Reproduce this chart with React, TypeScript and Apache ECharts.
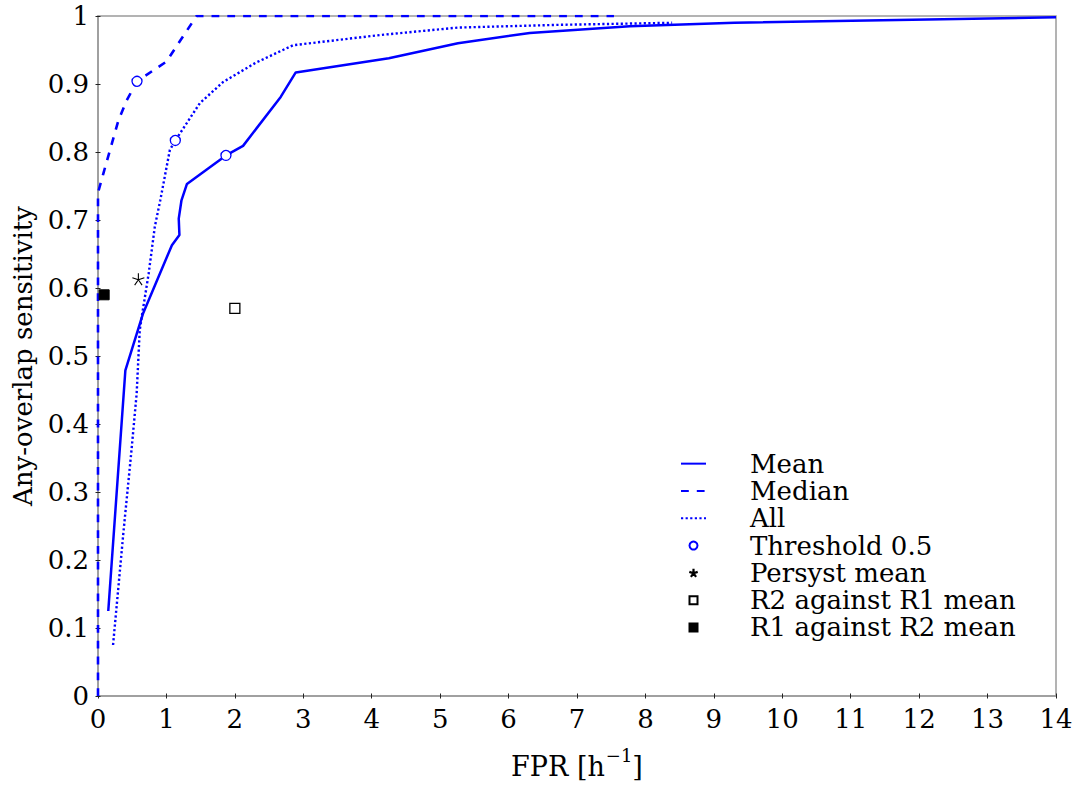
import React, { useEffect, useRef } from "react";
import * as echarts from "echarts";

// ROC-style curves: sensitivity against false-positive rate per hour
const meanFpr = [0.15, 0.4, 0.66, 1.08, 1.19, 1.18, 1.22, 1.3, 1.87, 2.12, 2.67, 2.89, 4.25, 5.26, 6.31, 7.77, 9.3, 14.0];
const meanSens = [0.125, 0.479, 0.563, 0.663, 0.678, 0.702, 0.729, 0.753, 0.795, 0.809, 0.881, 0.917, 0.938, 0.96, 0.975, 0.985, 0.99, 0.998];

const medianFpr = [0, 0, 0.08, 0.19, 0.3, 0.42, 0.57, 1.0, 1.44, 7.54];
const medianSens = [0, 0.74, 0.769, 0.808, 0.847, 0.876, 0.904, 0.933, 1.0, 1.0];

const allFpr = [0.22, 0.37, 0.49, 0.565, 0.61, 0.64, 0.74, 0.83, 0.91, 1.05, 1.13, 1.49, 1.83, 2.3, 2.85, 4.12, 5.26, 6.73, 8.39];
const allSens = [0.075, 0.239, 0.362, 0.445, 0.538, 0.558, 0.621, 0.69, 0.729, 0.803, 0.817, 0.872, 0.903, 0.931, 0.957, 0.972, 0.983, 0.987, 0.99];

const thresholdFpr = [0.57, 1.13, 1.87];
const thresholdSens = [0.904, 0.817, 0.795];

const persystPoint = [0.59, 0.613];
const r2VsR1Point = [2.0, 0.57];
const r1VsR2Point = [0.09, 0.59];

const xTicks = { min: 0, max: 14, interval: 1 };
const yTicks = { min: 0, max: 1, interval: 0.1 };

const seriesNames = [
  "Mean",
  "Median",
  "All",
  "Threshold 0.5",
  "Persyst mean",
  "R2 against R1 mean",
  "R1 against R2 mean",
];

const FONT = '"DejaVu Serif", "Liberation Serif", serif';
const BLUE = "#0000ff";
const AXIS_GREY = "#9a9a9a";
const STAR = "path://M0,-10L0,0M9.51,-3.09L0,0M5.88,8.09L0,0M-5.88,8.09L0,0M-9.51,-3.09L0,0";
const SQUARE = "path://M0,0L10,0L10,10L0,10Z";

const zip = (xs: number[], ys: number[]) => xs.map((x, i) => [x, ys[i]]);

// line entries in the legend show only their stroke, no marker
const lineOnly = { color: "rgba(0,0,0,0)", borderColor: "rgba(0,0,0,0)", borderWidth: 0 };

export default function App() {
  const ref = useRef<HTMLDivElement>(null);

  useEffect(() => {
    if (!ref.current) return;
    const chart = echarts.init(ref.current, undefined, { renderer: "svg" });

    const labelStyle = { color: "#000", fontFamily: FONT, fontSize: 26 };
    const tickStyle = { color: "#222", width: 1 };

    const baseX = {
      type: "value" as const,
      min: xTicks.min,
      max: xTicks.max,
      interval: xTicks.interval,
      position: "bottom" as const,
      splitLine: { show: false },
    };
    const baseY = {
      type: "value" as const,
      min: yTicks.min,
      max: yTicks.max,
      interval: yTicks.interval,
      position: "left" as const,
      splitLine: { show: false },
    };

    chart.setOption({
      animation: false,
      backgroundColor: "#fff",
      grid: {
        left: 98,
        right: 20,
        top: 16,
        bottom: 89,
        show: true,
        borderColor: AXIS_GREY,
        borderWidth: 1.5,
      },
      xAxis: [
        {
          ...baseX,
          axisLine: { show: true, lineStyle: { color: AXIS_GREY, width: 1.5 } },
          axisTick: { show: true, inside: true, length: 2.5, lineStyle: tickStyle },
          axisLabel: { ...labelStyle, margin: 10 },
          name: "{t|FPR [h}{s|−1}{t|]}",
          nameLocation: "middle",
          nameGap: 50,
          nameTextStyle: {
            rich: {
              t: { fontFamily: FONT, fontSize: 27, color: "#000", verticalAlign: "bottom", lineHeight: 34 },
              s: { fontFamily: FONT, fontSize: 18, color: "#000", verticalAlign: "top", lineHeight: 34, padding: [0, 0, 14, 1] },
            },
          },
        },
        {
          ...baseX,
          axisLine: { show: false },
          axisTick: { show: true, inside: false, length: 2.5, lineStyle: tickStyle },
          axisLabel: { show: false },
        },
      ],
      yAxis: [
        {
          ...baseY,
          axisLine: { show: true, lineStyle: { color: AXIS_GREY, width: 1.5 } },
          axisTick: { show: true, inside: true, length: 2.5, lineStyle: tickStyle },
          axisLabel: {
            ...labelStyle,
            margin: 9,
            formatter: (v: number) => (v === 0 || v === 1 ? String(v) : v.toFixed(1)),
          },
          name: "Any-overlap sensitivity",
          nameLocation: "middle",
          nameGap: 62,
          nameTextStyle: { fontFamily: FONT, fontSize: 26, color: "#000" },
        },
        {
          ...baseY,
          axisLine: { show: false },
          axisTick: { show: true, inside: false, length: 2.5, lineStyle: tickStyle },
          axisLabel: { show: false },
        },
      ],
      legend: {
        orient: "vertical",
        left: 680,
        top: 450,
        padding: 0,
        itemGap: 0,
        itemWidth: 25,
        itemHeight: 8,
        selectedMode: false,
        textStyle: {
          fontFamily: FONT,
          fontSize: 26,
          color: "#000",
          lineHeight: 27.3,
          padding: [0, 0, 0, 39],
        },
        data: [
          { name: seriesNames[0], itemStyle: lineOnly },
          { name: seriesNames[1], itemStyle: lineOnly },
          { name: seriesNames[2], itemStyle: lineOnly },
          { name: seriesNames[3] },
          { name: seriesNames[4], itemStyle: { borderWidth: 2.2 } },
          { name: seriesNames[5] },
          { name: seriesNames[6] },
        ],
      },
      series: [
        {
          name: seriesNames[0],
          type: "line",
          data: zip(meanFpr, meanSens),
          symbol: "none",
          color: BLUE,
          lineStyle: { color: BLUE, width: 2.5, type: "solid" },
          z: 3,
        },
        {
          name: seriesNames[1],
          type: "line",
          data: zip(medianFpr, medianSens),
          symbol: "none",
          color: BLUE,
          lineStyle: { color: BLUE, width: 2.6, type: [7.8, 8] },
          z: 3,
        },
        {
          name: seriesNames[2],
          type: "line",
          data: zip(allFpr, allSens),
          symbol: "none",
          color: BLUE,
          lineStyle: { color: BLUE, width: 2.4, type: [2.2, 2.4] },
          z: 3,
        },
        {
          name: seriesNames[3],
          type: "scatter",
          data: zip(thresholdFpr, thresholdSens),
          symbol: "circle",
          symbolSize: 10,
          itemStyle: { color: "#fff", borderColor: BLUE, borderWidth: 1.3, opacity: 1 },
          z: 5,
        },
        {
          name: seriesNames[4],
          type: "scatter",
          data: [persystPoint],
          symbol: STAR,
          symbolSize: 12,
          itemStyle: { color: "none", borderColor: "#000", borderWidth: 1.1, opacity: 1 },
          z: 5,
        },
        {
          name: seriesNames[5],
          type: "scatter",
          data: [r2VsR1Point],
          symbol: SQUARE,
          symbolSize: 10,
          itemStyle: { color: "#fff", borderColor: "#000", borderWidth: 1.3, opacity: 1 },
          z: 5,
        },
        {
          name: seriesNames[6],
          type: "scatter",
          data: [r1VsR2Point],
          symbol: SQUARE,
          symbolSize: 10,
          itemStyle: { color: "#000", borderColor: "#000", borderWidth: 1, opacity: 1 },
          z: 5,
        },
      ],
    });

    return () => chart.dispose();
  }, []);

  return (
    <div
      ref={ref}
      style={{ position: "absolute", left: 0, top: 0, width: 1076, height: 785, background: "#fff" }}
    />
  );
}
